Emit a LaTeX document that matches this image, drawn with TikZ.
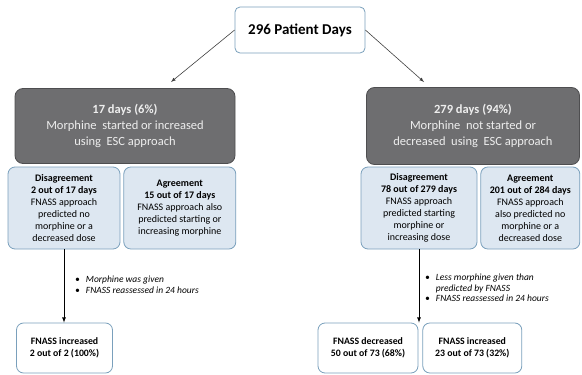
\documentclass[tikz,border=0pt]{standalone}
\usepackage{fontspec}
\setmainfont{Carlito}
\usetikzlibrary{positioning}
\definecolor{boxline}{RGB}{122,160,188}
\definecolor{splitfill}{RGB}{221,231,241}
\definecolor{escfill}{RGB}{110,110,112}
\definecolor{escline}{RGB}{78,78,80}
\definecolor{esctext}{RGB}{238,238,238}
\tikzset{
	startbox/.style={draw=boxline, thick, rectangle, rounded corners=5pt, fill=white, align=center, font=\fontsize{15}{17}\selectfont\bfseries},
	escbox/.style={draw=escline, thick, rectangle, rounded corners=8pt, fill=escfill, text=esctext, align=center, font=\fontsize{12.5}{16}\selectfont},
	splitbox/.style={draw=boxline, thick, rectangle, rounded corners=7pt, fill=splitfill, align=center, minimum height=82pt, font=\fontsize{10}{12}\selectfont},
	outbox/.style={draw=boxline, thick, rectangle, rounded corners=7pt, fill=white, align=center, minimum height=50pt, font=\fontsize{9.8}{11.5}\selectfont\bfseries},
	% bullet notes beside the vertical arrows
	note/.style={anchor=west, inner sep=0pt, font=\fontsize{9.5}{10.5}\selectfont\itshape},
}

\begin{document}
\begin{tikzpicture}[x=1pt, y=-1pt]
	\useasboundingbox (0,0) rectangle (582,375);
	
	\node (top) [startbox, minimum width=130pt, minimum height=46pt] at (300,30) {296 Patient Days};
	
	\node (lesc) [escbox, minimum width=220pt, minimum height=75pt] at (125,126) {\textbf{17 days (6\%)}\\Morphine~ started or increased\\using~ ESC approach};
	\node (resc) [escbox, minimum width=213pt, minimum height=77pt] at (473,126) {\textbf{279 days (94\%)}\\Morphine~ not started or\\decreased~ using~ ESC approach};
	
	\node (ldis) [splitbox, minimum width=112pt] at (64,208) {\textbf{Disagreement}\\\textbf{2 out of 17 days}\\FNASS approach\\predicted no\\morphine or a\\decreased dose};
	\node (lagr) [splitbox, minimum width=112pt, right=3pt of ldis] {\textbf{Agreement}\\\textbf{15 out of 17 days}\\FNASS approach also\\predicted starting or\\increasing morphine};
	
	\node (rdis) [splitbox, minimum width=116pt] at (419,208) {\textbf{Disagreement}\\\textbf{78 out of 279 days}\\FNASS approach\\predicted starting\\morphine or\\increasing dose};
	\node (ragr) [splitbox, minimum width=99pt, right=3pt of rdis] {\textbf{Agreement}\\\textbf{201 out of 284 days}\\FNASS approach\\also predicted no\\morphine or a\\decreased dose};
	
	\node (lout) [outbox, minimum width=96pt] at (64.5,348) {FNASS increased\\2 out of 2 (100\%)};
	
	\node (rdec) [outbox, minimum width=100pt] at (368,348) {FNASS decreased\\50 out of 73 (68\%)};
	\node (rinc) [outbox, minimum width=99pt, right=4pt of rdec] {FNASS increased\\23 out of 73 (32\%)};
	
	\node (lnote) [note] at (75,286) {\begin{tabular}{@{}l@{\hspace{6pt}}l@{}}\textbullet & Morphine was given\\\textbullet & FNASS reassessed in 24 hours\end{tabular}};
	\node (rnote) [note] at (425,289) {\begin{tabular}{@{}l@{\hspace{6pt}}l@{}}\textbullet & Less morphine given than\\ & predicted by FNASS\\\textbullet & FNASS reassessed in 24 hours\end{tabular}};
	
	\coordinate (lend) at (171,82);
	\coordinate (rend) at (424,82);
	
	\begin{scope}[semithick, black!75, ->, >=latex]
		\draw (top.west) -- (lend);
		\draw (top.east) -- (rend);
	\end{scope}
	
	\begin{scope}[thick, black, ->, >=latex]
		\draw (ldis.south) -- (ldis.south |- lout.north);
		\draw (rdis.south) -- (rdis.south |- rdec.north);
	\end{scope}
	
\end{tikzpicture}
\end{document}
